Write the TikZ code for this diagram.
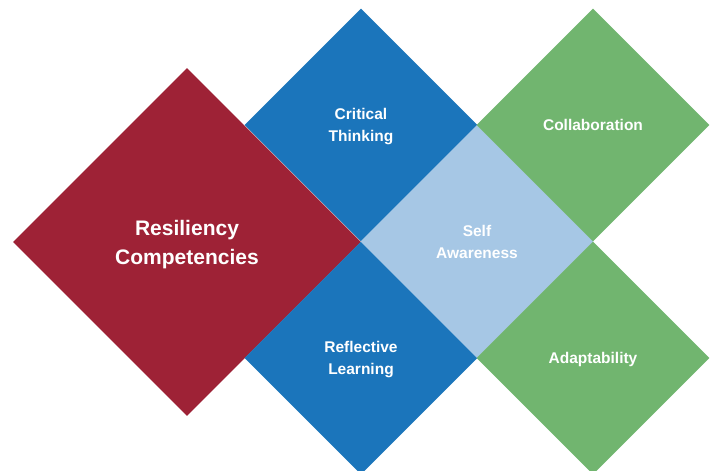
\documentclass[tikz,border=0pt]{standalone}
\usepackage{fontspec}
\setmainfont{Liberation Sans}
\usetikzlibrary{shapes.geometric}
\definecolor{resred}{RGB}{158,34,54}
\definecolor{resblue}{RGB}{27,117,187}
\definecolor{reslight}{RGB}{166,199,229}
\definecolor{resgreen}{RGB}{113,181,111}
\begin{document}
\begin{tikzpicture}[x=1pt, y=-1pt,
		tile/.style={diamond, aspect=1, inner sep=0pt, align=center, text=white,
			text depth=0pt, font=\bfseries\fontsize{15.5}{22}\selectfont,
			minimum width=233pt, minimum height=233pt},
		bigtile/.style={tile, font=\bfseries\fontsize{21}{29}\selectfont,
			minimum width=348pt, minimum height=348pt}]
				\useasboundingbox (0,0) rectangle (712,471);
				% main diamond
				\node[bigtile, fill=resred] (resiliency) at (187, 242) {Resiliency\\Competencies};
				% smaller diamonds
				\foreach \name/\x/\y/\col/\txt in {
						thinking/361/125/resblue/{Critical\\Thinking},
						learning/361/358/resblue/{Reflective\\Learning},
						awareness/477/241.5/reslight/{Self\\Awareness},
						collaboration/593/125/resgreen/{Collaboration},
						adaptability/593/358/resgreen/{Adaptability}}
					\node[tile, fill=\col] (\name) at (\x, \y) {\txt};
			\end{tikzpicture}
\end{document}
